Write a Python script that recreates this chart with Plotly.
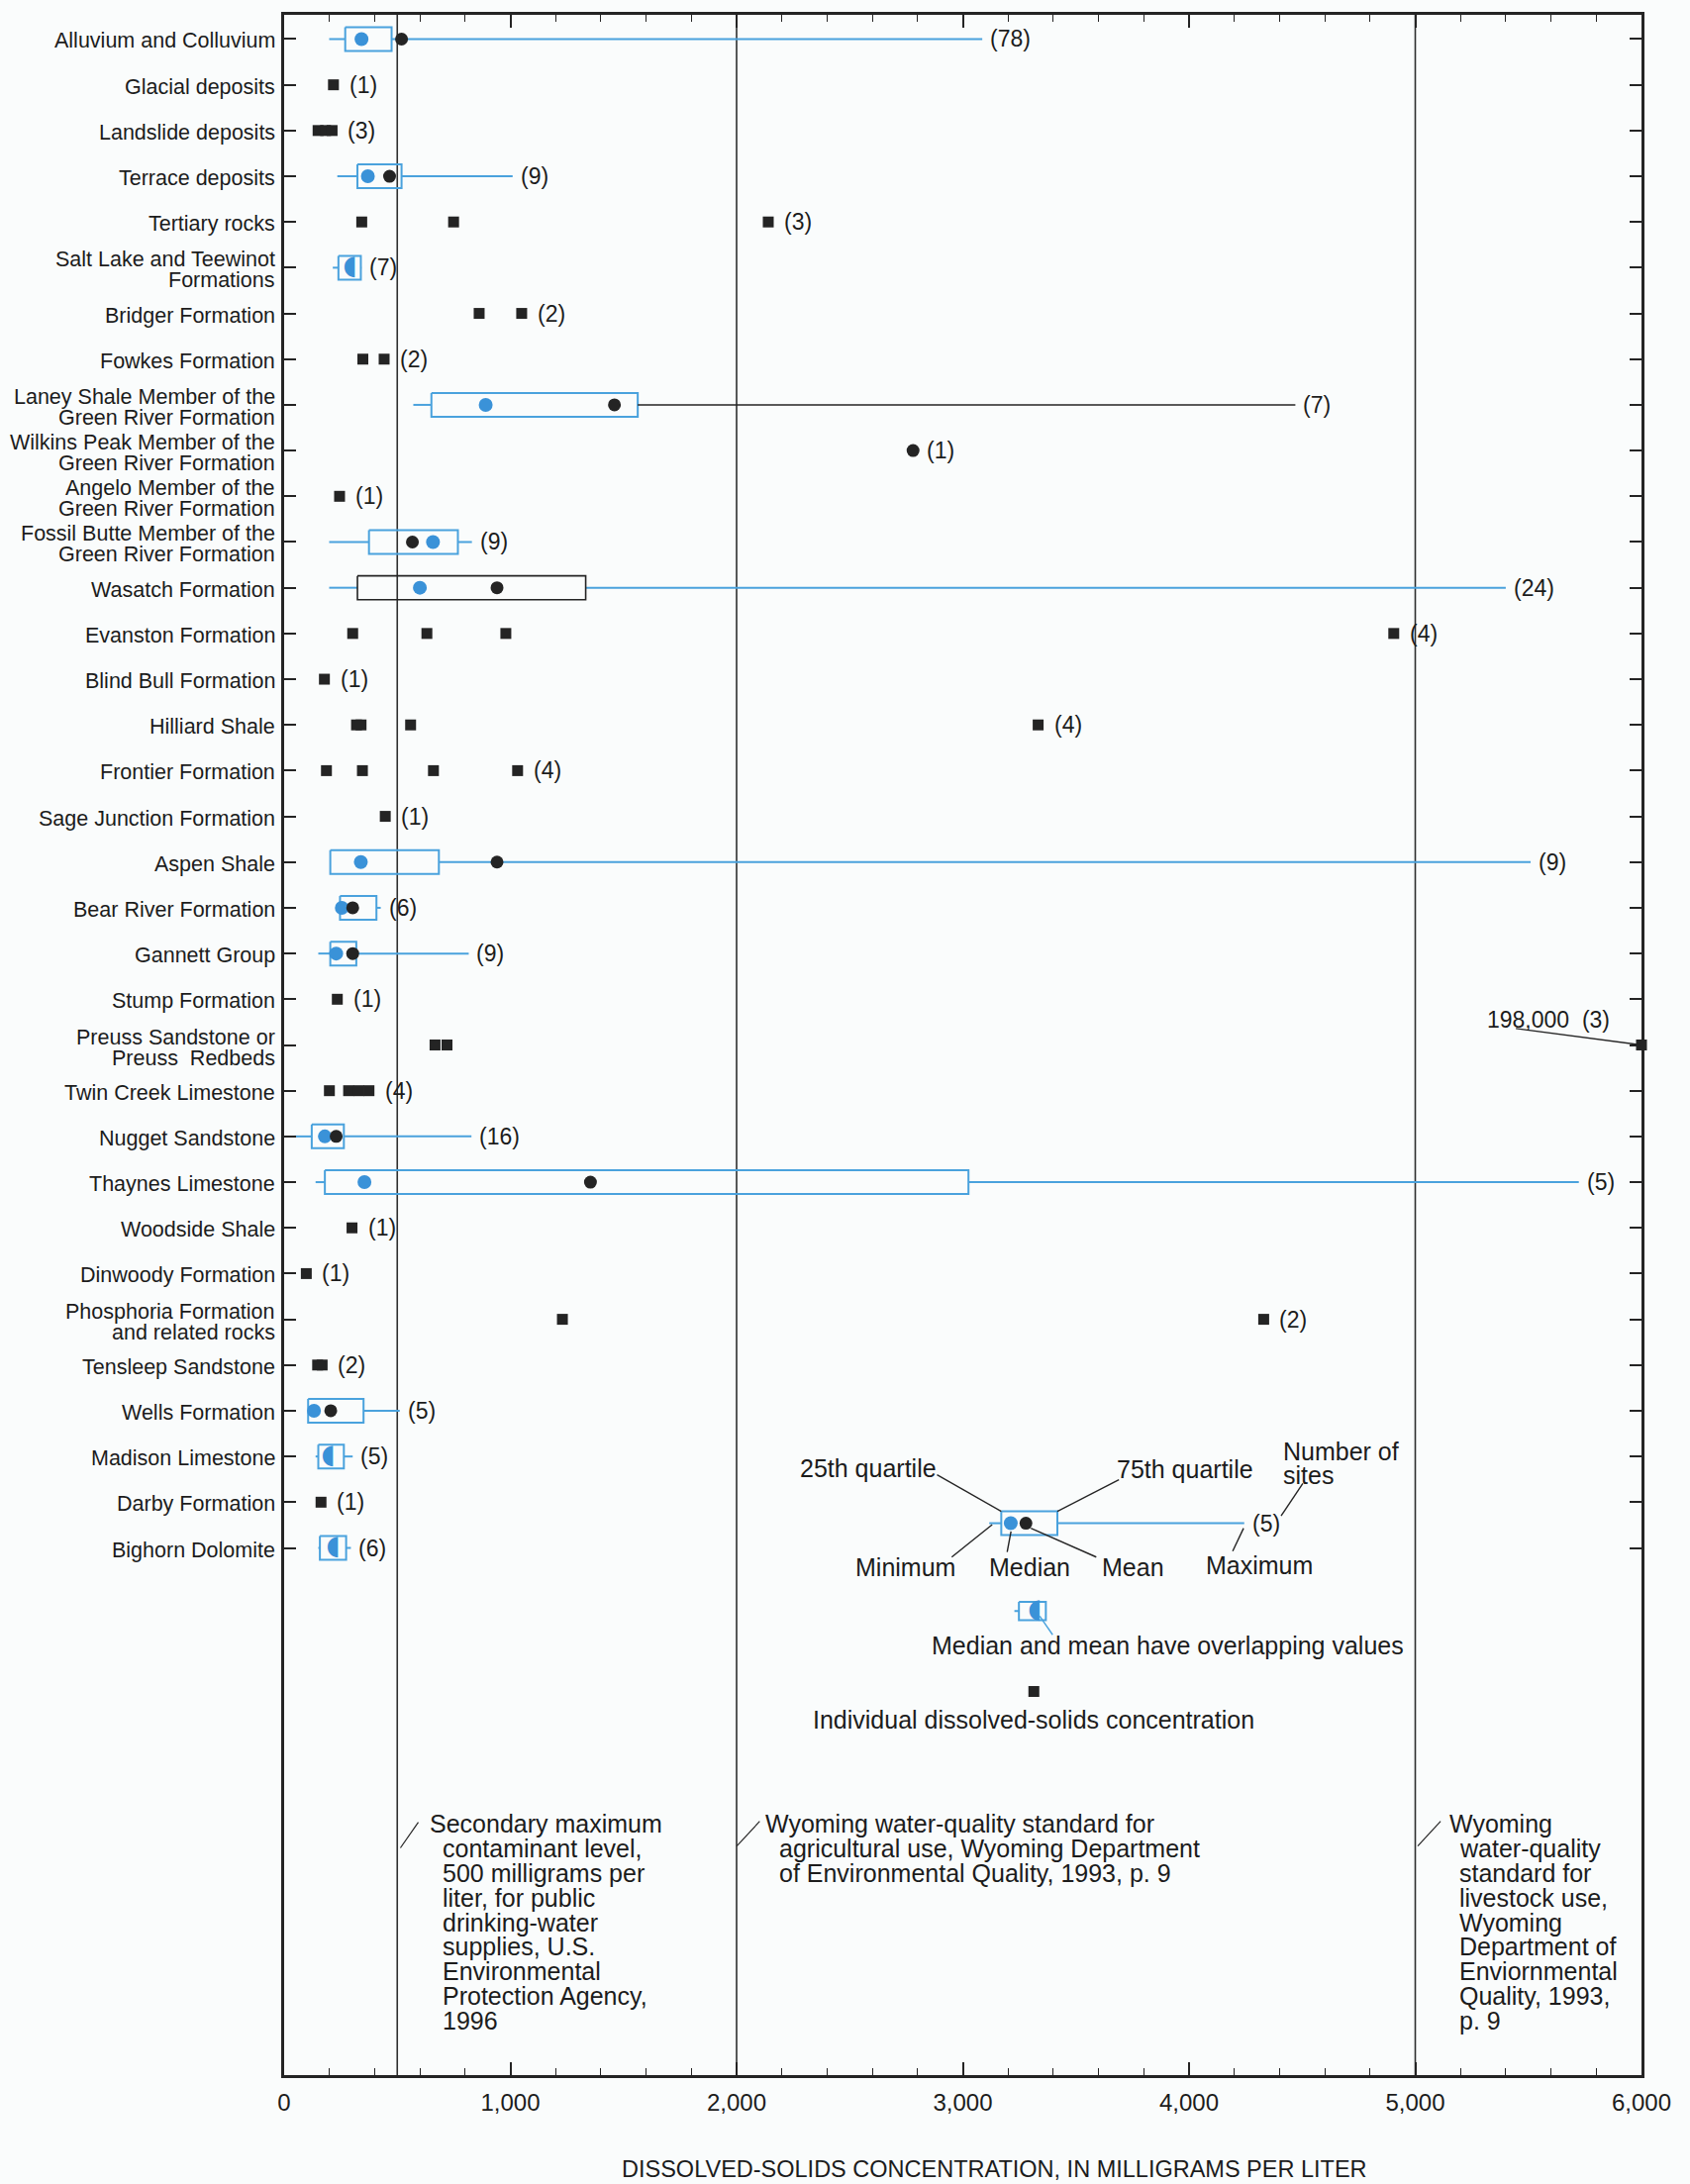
import plotly.graph_objects as go

XMAX = 6000
FONT = "Liberation Sans, Arial, Helvetica, sans-serif"
BLUE_LINE = "#4aa2dd"
BLUE_DOT = "#3a92d8"
DARK = "#242424"
TEXT = "#1c1c1c"

# Geologic units, listed top to bottom (one row each)
formations = [
    "Alluvium and Colluvium",
    "Glacial deposits",
    "Landslide deposits",
    "Terrace deposits",
    "Tertiary rocks",
    "Salt Lake and Teewinot\nFormations",
    "Bridger Formation",
    "Fowkes Formation",
    "Laney Shale Member of the\nGreen River Formation",
    "Wilkins Peak Member of the\nGreen River Formation",
    "Angelo Member of the\nGreen River Formation",
    "Fossil Butte Member of the\nGreen River Formation",
    "Wasatch Formation",
    "Evanston Formation",
    "Blind Bull Formation",
    "Hilliard Shale",
    "Frontier Formation",
    "Sage Junction Formation",
    "Aspen Shale",
    "Bear River Formation",
    "Gannett Group",
    "Stump Formation",
    "Preuss Sandstone or\nPreuss  Redbeds",
    "Twin Creek Limestone",
    "Nugget Sandstone",
    "Thaynes Limestone",
    "Woodside Shale",
    "Dinwoody Formation",
    "Phosphoria Formation\nand related rocks",
    "Tensleep Sandstone",
    "Wells Formation",
    "Madison Limestone",
    "Darby Formation",
    "Bighorn Dolomite",
]
site_counts = [78, 1, 3, 9, 3, 7, 2, 2, 7, 1, 1, 9, 24, 4, 1, 4, 4, 1, 9, 6,
               9, 1, 3, 4, 16, 5, 1, 1, 2, 2, 5, 5, 1, 6]

# Summary statistics (mg/L) for units summarized as boxes
box_formations = [
    "Alluvium and Colluvium",
    "Terrace deposits",
    "Salt Lake and Teewinot\nFormations",
    "Laney Shale Member of the\nGreen River Formation",
    "Fossil Butte Member of the\nGreen River Formation",
    "Wasatch Formation",
    "Aspen Shale",
    "Bear River Formation",
    "Gannett Group",
    "Nugget Sandstone",
    "Thaynes Limestone",
    "Wells Formation",
    "Madison Limestone",
    "Bighorn Dolomite",
]
box_min    = [199, 235, 215, 571, 199, 199, 204, 240, 151, 45, 139, 106, 139, 151]
box_q1     = [270, 324, 240, 651, 375, 324, 204, 247, 204, 122, 180, 106, 151, 158]
box_median = [342, 370, 290, 891, 658, 600, 339, 255, 230, 180, 355, 132, 194, 216]
box_mean   = [519, 466, 290, 1460, 567, 941, 941, 303, 303, 230, 1354, 206, 194, 216]
box_q3     = [475, 519, 339, 1563, 768, 1333, 684, 408, 319, 264, 3025, 351, 264, 274]
box_max    = [3086, 1010, 342, 4470, 830, 5400, 5510, 427, 816, 828, 5723, 511, 303, 295]
box_outline_dark = ["Wasatch Formation"]
upper_whisker_dark = ["Laney Shale Member of the\nGreen River Formation"]

# Individual dissolved-solids concentrations (mg/L)
individual_values = {
    "Glacial deposits": [218],
    "Landslide deposits": [150, 183, 212],
    "Tertiary rocks": [343, 749, 2140],
    "Bridger Formation": [862, 1050],
    "Fowkes Formation": [348, 442],
    "Angelo Member of the\nGreen River Formation": [245],
    "Evanston Formation": [303, 631, 980, 4905],
    "Blind Bull Formation": [178],
    "Hilliard Shale": [320, 340, 559, 3333],
    "Frontier Formation": [187, 346, 660, 1032],
    "Sage Junction Formation": [447],
    "Stump Formation": [235],
    "Preuss Sandstone or\nPreuss  Redbeds": [667, 720, 198000],
    "Twin Creek Limestone": [200, 285, 330, 375],
    "Woodside Shale": [300],
    "Dinwoody Formation": [98],
    "Phosphoria Formation\nand related rocks": [1230, 4330],
    "Tensleep Sandstone": [148, 168],
    "Darby Formation": [163],
}

# Units reported only by a mean value
mean_only_formations = ["Wilkins Peak Member of the\nGreen River Formation"]
mean_only_values = [2780]

# Regulatory reference levels (mg/L)
reference_levels = [500, 2000, 5000]
note_500 = ["Secondary maximum", "contaminant level,", "500 milligrams per",
            "liter, for public", "drinking-water", "supplies, U.S.",
            "Environmental", "Protection Agency,", "1996"]
note_2000 = ["Wyoming water-quality standard for",
             "agricultural use, Wyoming Department",
             "of Environmental Quality, 1993, p. 9"]
note_5000 = ["Wyoming", "water-quality", "standard for", "livestock use,",
             "Wyoming", "Department of", "Enviornmental", "Quality, 1993,", "p. 9"]

# Explanation (key) example values
key_min, key_q1, key_median, key_mean, key_q3, key_max, key_n = 3117, 3170, 3212, 3279, 3418, 4244, 5
key_overlap_q1, key_overlap_q3, key_overlap_center = 3248, 3367, 3318
key_point = 3314

x_tick_values = [0, 1000, 2000, 3000, 4000, 5000, 6000]
x_tick_labels = ["0", "1,000", "2,000", "3,000", "4,000", "5,000", "6,000"]

row_of = {name: i for i, name in enumerate(formations)}
HALF = 0.26  # half box height, rows

fig = go.Figure()

# ---- boxes and whiskers ----
blue_x, blue_y, dark_x, dark_y = [], [], [], []


def add_seg(xs, ys, dark):
    if dark:
        dark_x.extend(xs + [None]); dark_y.extend(ys + [None])
    else:
        blue_x.extend(xs + [None]); blue_y.extend(ys + [None])


def add_box(r, mn, q1, q3, mx, h=HALF, box_dark=False, whisk_dark=False):
    add_seg([q1, q3, q3, q1, q1], [r - h, r - h, r + h, r + h, r - h], box_dark)
    if mn < q1:
        add_seg([mn, q1], [r, r], False)
    if mx > q3:
        add_seg([q3, mx], [r, r], whisk_dark)


for i, name in enumerate(box_formations):
    add_box(row_of[name], box_min[i], box_q1[i], box_q3[i], box_max[i],
            box_dark=name in box_outline_dark, whisk_dark=name in upper_whisker_dark)

KEY_ROW = 32.46
KEY2_ROW = 34.38
KEY3_ROW = 36.14
add_box(KEY_ROW, key_min, key_q1, key_q3, key_max)
add_box(KEY2_ROW, key_overlap_q1 - 20, key_overlap_q1, key_overlap_q3, key_overlap_q3, h=0.2)

fig.add_trace(go.Scatter(x=blue_x, y=blue_y, mode="lines",
                         line=dict(color=BLUE_LINE, width=2), hoverinfo="skip"))
fig.add_trace(go.Scatter(x=dark_x, y=dark_y, mode="lines",
                         line=dict(color=DARK, width=1.6), hoverinfo="skip"))

# ---- individual concentrations ----
px_, py_ = [], []
for name, vals in individual_values.items():
    for v in vals:
        px_.append(min(v, XMAX))
        py_.append(row_of[name])
px_.append(key_point); py_.append(KEY3_ROW)
fig.add_trace(go.Scatter(x=px_, y=py_, mode="markers", cliponaxis=False,
                         marker=dict(symbol="square", size=11, color=DARK,
                                     line=dict(width=0)), hoverinfo="skip"))

# ---- medians and means ----
med_x, med_y, mean_x, mean_y, half_x, half_y = [], [], [], [], [], []
for i, name in enumerate(box_formations):
    r = row_of[name]
    if box_median[i] == box_mean[i]:
        half_x.append(box_median[i]); half_y.append(r)
    else:
        med_x.append(box_median[i]); med_y.append(r)
        mean_x.append(box_mean[i]); mean_y.append(r)
for name, v in zip(mean_only_formations, mean_only_values):
    mean_x.append(v); mean_y.append(row_of[name])
med_x.append(key_median); med_y.append(KEY_ROW)
mean_x.append(key_mean); mean_y.append(KEY_ROW)
half_x.append(key_overlap_center); half_y.append(KEY2_ROW)

fig.add_trace(go.Scatter(x=med_x, y=med_y, mode="markers",
                         marker=dict(symbol="circle", size=14, color=BLUE_DOT),
                         hoverinfo="skip"))
fig.add_trace(go.Scatter(x=mean_x, y=mean_y, mode="markers",
                         marker=dict(symbol="circle", size=13, color=DARK),
                         hoverinfo="skip"))
fig.add_trace(go.Scatter(x=half_x, y=half_y, mode="text", text=["\u25D6"] * len(half_x),
                         textposition="middle center",
                         textfont=dict(family="DejaVu Sans", size=27, color=BLUE_DOT),
                         hoverinfo="skip"))

annotations = []
shapes = []

# ---- category labels ----
for i, name in enumerate(formations):
    lines = name.split("\n")
    shifts = [-2] if len(lines) == 1 else [8, -13]
    for line, s in zip(lines, shifts):
        annotations.append(dict(xref="paper", x=0, yref="y", y=i, text=line,
                                xanchor="right", yanchor="middle", xshift=-7, yshift=s,
                                showarrow=False, font=dict(family=FONT, size=21.5, color=TEXT)))

# ---- site counts ----
cnt_font = dict(family=FONT, size=23, color=TEXT)
box_idx = {n: i for i, n in enumerate(box_formations)}
for i, name in enumerate(formations):
    n = site_counts[i]
    if name in box_idx:
        xe, gap = box_max[box_idx[name]], 6
    elif name in individual_values:
        vals = individual_values[name]
        if max(vals) > XMAX:
            continue
        xe, gap = max(vals), 14
    else:
        xe, gap = mean_only_values[mean_only_formations.index(name)], 12
    annotations.append(dict(x=xe, y=i, text=f"({n})", xanchor="left", yanchor="middle",
                            xshift=gap, showarrow=False, font=cnt_font))
annotations.append(dict(x=key_max, y=KEY_ROW, text=f"({key_n})", xanchor="left",
                        yanchor="middle", xshift=6, showarrow=False, font=cnt_font))

# off-scale value for Preuss
preuss = "Preuss Sandstone or\nPreuss  Redbeds"
off_val = max(individual_values[preuss])
annotations.append(dict(x=5309, y=21.44, text=f"{off_val:,}  ({site_counts[row_of[preuss]]})",
                        xanchor="left", yanchor="middle", showarrow=False, font=cnt_font))
shapes.append(dict(type="line", x0=5445, y0=21.64, x1=XMAX, y1=row_of[preuss],
                   line=dict(color=DARK, width=1.4)))

# ---- reference levels ----
for lv in reference_levels:
    shapes.append(dict(type="line", xref="x", yref="paper", x0=lv, x1=lv, y0=0, y1=1,
                       line=dict(color="#2e2e2e", width=1.6), layer="below"))

note_font = dict(family=FONT, size=25, color=TEXT)
LINE_ROWS = 0.537
for lines, x_first, x_rest, lead in [
        (note_500, 636, 693, (514, 39.56, 593, 39.0)),
        (note_2000, 2119, 2181, (2001, 39.52, 2102, 38.98)),
        (note_5000, 5143, 5187, (5011, 39.52, 5112, 38.98))]:
    for k, line in enumerate(lines):
        annotations.append(dict(x=x_first if k == 0 else x_rest, y=39.04 + k * LINE_ROWS,
                                text=line, xanchor="left", yanchor="middle",
                                showarrow=False, font=note_font))
    shapes.append(dict(type="line", x0=lead[0], y0=lead[1], x1=lead[2], y1=lead[3],
                       line=dict(color=DARK, width=1.2)))

# ---- explanation ----
key_font = dict(family=FONT, size=25, color=TEXT)
for txt, x, y, anchor in [
        ("25th quartile", 2583, 31.25, "center"),
        ("75th quartile", 3983, 31.27, "center"),
        ("Number of", 4408, 30.88, "left"),
        ("sites", 4408, 31.40, "left"),
        ("Minimum", 2745, 33.42, "center"),
        ("Median", 3296, 33.42, "center"),
        ("Mean", 3751, 33.42, "center"),
        ("Maximum", 4311, 33.37, "center"),
        ("Median and mean have overlapping values", 3905, 35.14, "center"),
        ("Individual dissolved-solids concentration", 3314, 36.75, "center")]:
    annotations.append(dict(x=x, y=y, text=txt, xanchor=anchor, yanchor="middle",
                            showarrow=False, font=key_font))

for x0, y0, x1, y1 in [
        (2886, 31.40, key_q1, KEY_ROW - HALF),
        (3690, 31.51, key_q3, KEY_ROW - HALF),
        (2951, 33.20, 3130, KEY_ROW + 0.03),
        (3213, 32.64, 3196, 33.09),
        (3301, 32.57, 3590, 33.20),
        (4193, 33.07, 4241, 32.57),
        (4503, 31.59, 4407, 32.30),
        (3340, 34.49, 3397, 34.90)]:
    shapes.append(dict(type="line", x0=x0, y0=y0, x1=x1, y1=y1,
                       line=dict(color=DARK, width=1.4)))
shapes[-1]["line"]["color"] = BLUE_LINE

# x-axis title
annotations.append(dict(xref="paper", yref="paper", x=0.523, y=-0.0456,
                        text="DISSOLVED-SOLIDS CONCENTRATION, IN MILLIGRAMS PER LITER",
                        xanchor="center", yanchor="middle", showarrow=False,
                        font=dict(family=FONT, size=23.5, color=TEXT)))

fig.update_layout(
    width=1707, height=2206,
    margin=dict(l=286.5, r=49, t=14.5, b=110),
    paper_bgcolor="#fafcfc", plot_bgcolor="#fafcfc",
    showlegend=False,
    annotations=annotations, shapes=shapes,
    font=dict(family=FONT, color=TEXT),
)
fig.update_xaxes(range=[0, XMAX], tickvals=x_tick_values, ticktext=x_tick_labels,
                 ticks="inside", ticklen=13, tickwidth=1.5, tickcolor=DARK,
                 minor=dict(dtick=200, ticks="inside", ticklen=7, tickwidth=1.3, tickcolor=DARK),
                 showline=True, linewidth=2.6, linecolor=DARK, mirror="ticks",
                 showgrid=False, zeroline=False, ticklabelstandoff=4,
                 tickfont=dict(family=FONT, size=24, color=TEXT))
fig.update_yaxes(range=[44.53, -0.53], tickvals=list(range(len(formations))),
                 showticklabels=False, ticks="inside", ticklen=12, tickwidth=1.5,
                 tickcolor=DARK, showline=True, linewidth=2.6, linecolor=DARK,
                 mirror="ticks", showgrid=False, zeroline=False)

fig.write_html("out.html")
